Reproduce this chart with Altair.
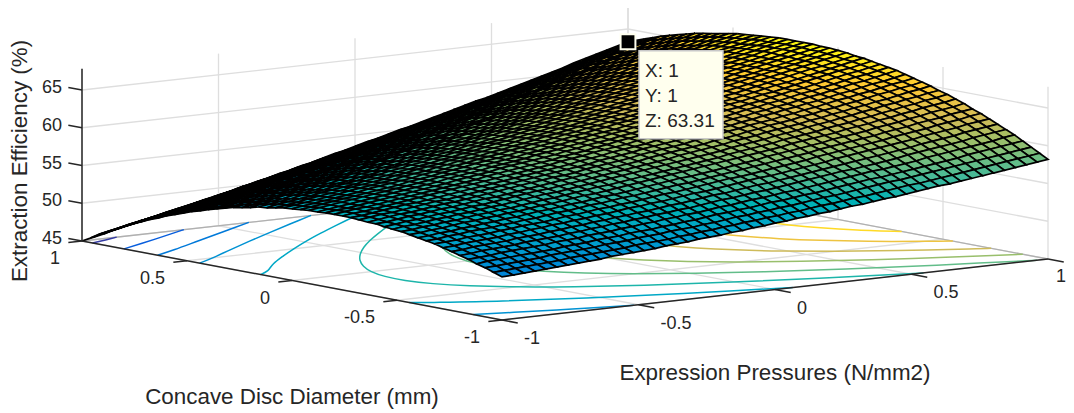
import altair as alt, numpy as np, pandas as pd

# Surface heights in tenths of a percent, one row per mesh line of Concave Disc Diameter (-1..1),
# one column per mesh line of Expression Pressures (-1..1). Surface edges,
# corners and floor contours, with Z = 63.31 at the labelled corner.
Z_TENTHS = [
[507,508,509,510,511,512,513,514,515,516,518,519,520,521,522,524,525,526,528,529,530,532,533,535,536,538,539,541,542,544,545,547,549,550,552,554,555,557,559,561,563,564,566,568,570,572,574,576,578,580,582],
[511,512,513,514,515,516,517,519,520,521,522,523,524,526,527,528,529,531,532,534,535,537,538,540,541,543,544,546,547,549,551,552,554,556,557,559,561,563,565,566,568,570,572,574,576,578,580,582,584,586,588],
[515,516,517,518,519,520,522,523,524,525,526,528,529,530,532,533,534,536,537,538,540,541,543,545,546,548,549,551,552,554,556,558,559,561,563,565,567,569,570,572,574,576,578,580,582,584,586,588,590,592,594],
[518,520,521,522,523,524,525,526,528,529,530,532,533,534,536,537,538,540,541,543,544,546,548,549,551,552,554,556,557,559,561,562,564,566,568,570,572,573,575,577,579,581,583,585,587,590,592,594,596,598,600],
[522,523,524,526,527,528,529,530,532,533,534,536,537,538,540,541,543,544,546,547,549,550,552,554,555,557,559,560,562,564,565,567,569,571,573,575,577,579,580,582,584,586,589,591,593,595,597,599,601,604,606],
[525,526,528,529,530,531,533,534,535,536,538,539,541,542,544,545,547,548,550,551,553,554,556,558,560,561,563,565,566,568,570,572,574,576,578,580,581,583,585,587,589,592,594,596,598,600,602,605,607,609,611],
[528,529,531,532,533,534,536,537,538,540,541,543,544,546,547,549,550,552,553,555,557,558,560,562,564,565,567,569,571,572,574,576,578,580,582,584,586,588,590,592,594,596,598,601,603,605,607,610,612,614,616],
[531,532,534,535,536,537,539,540,542,543,545,546,548,549,551,552,554,556,557,559,560,562,564,566,567,569,571,573,575,577,578,580,582,584,586,588,591,593,595,597,599,601,603,605,608,610,612,614,617,619,621],
[534,535,536,538,539,540,542,543,545,546,547,549,551,552,554,556,557,559,560,562,564,566,567,569,571,573,575,577,578,580,582,584,586,588,590,593,595,597,599,601,603,605,608,610,612,614,617,619,621,624,626],
[536,537,539,540,542,543,544,546,547,549,550,552,554,555,557,559,560,562,564,565,567,569,571,573,574,576,578,580,582,584,586,588,590,592,594,596,599,601,603,605,607,609,612,614,616,619,621,623,626,628,630],
[538,539,541,542,544,545,547,548,550,551,553,555,556,558,560,561,563,565,566,568,570,572,574,576,578,579,581,583,585,587,589,591,594,596,598,600,602,604,607,609,611,613,616,618,620,623,625,628,630,632,635],
[540,541,543,544,546,548,549,551,552,554,555,557,559,560,562,564,566,567,569,571,573,575,577,579,581,583,585,587,589,591,593,595,597,599,601,604,606,608,610,612,615,617,619,622,624,627,629,632,634,636,639],
[542,543,545,546,548,549,551,553,554,556,557,559,561,563,564,566,568,570,572,573,575,577,579,581,583,585,587,589,591,593,596,598,600,602,604,607,609,611,613,616,618,620,623,625,628,630,633,635,638,640,643],
[543,545,546,548,550,551,553,554,556,558,559,561,563,565,567,568,570,572,574,576,578,580,582,584,586,588,590,592,594,596,598,601,603,605,607,610,612,614,617,619,621,624,626,629,631,634,636,639,641,644,646],
[544,546,548,549,551,553,554,556,558,559,561,563,565,567,569,570,572,574,576,578,580,582,584,586,588,590,592,595,597,599,601,603,606,608,610,613,615,617,619,622,624,627,629,632,634,637,639,642,645,647,650],
[546,547,549,551,552,554,556,557,559,561,563,564,566,568,570,572,574,576,578,580,582,584,586,588,590,593,595,597,599,601,603,606,608,610,613,615,618,620,622,625,627,630,632,635,637,640,643,645,648,650,653],
[546,548,550,552,553,555,557,559,560,562,564,566,568,570,572,574,576,578,579,581,584,586,588,590,592,595,597,599,601,603,606,608,610,613,615,618,620,622,625,627,630,632,635,638,640,643,645,648,651,653,656],
[547,549,551,552,554,556,558,560,561,563,565,567,569,571,573,575,577,579,581,583,585,587,590,592,594,596,599,601,603,605,607,610,612,615,617,620,622,625,627,630,632,635,637,640,643,645,648,651,653,656,659],
[548,549,551,553,555,557,558,560,562,564,566,568,570,572,574,576,578,580,582,584,586,589,591,593,596,598,600,602,605,607,609,612,614,617,619,622,624,627,629,632,634,637,640,642,645,648,651,653,656,659,662],
[548,550,551,553,555,557,559,561,563,565,567,569,571,573,575,577,579,581,583,585,588,590,592,595,597,599,601,604,606,608,611,613,616,618,621,623,626,629,631,634,636,639,642,644,647,650,653,656,658,661,664],
[548,550,552,553,555,557,559,561,563,565,567,569,571,573,576,578,580,582,584,586,588,591,593,595,598,600,603,605,607,610,612,615,617,620,622,625,628,630,633,635,638,641,644,646,649,652,655,658,660,663,666],
[548,550,551,553,555,557,559,561,563,565,567,569,572,574,576,578,581,583,585,587,589,591,594,596,599,601,603,606,608,611,613,616,618,621,624,626,629,632,634,637,640,642,645,648,651,654,657,660,662,665,668],
[547,549,551,553,555,557,559,561,563,565,567,569,572,574,576,578,581,583,585,587,590,592,594,597,599,602,604,607,609,612,614,617,619,622,625,627,630,633,635,638,641,644,647,649,652,655,658,661,664,667,670],
[547,549,551,553,555,557,559,561,563,565,567,569,572,574,576,578,581,583,585,587,590,592,595,597,600,602,605,607,609,612,615,617,620,623,626,628,631,634,637,639,642,645,648,651,654,657,660,662,665,668,671],
[546,548,550,552,554,556,558,560,562,564,567,569,571,574,576,578,581,583,585,587,590,592,595,597,600,603,605,608,610,613,615,618,621,623,626,629,632,634,637,640,643,646,649,652,655,658,661,664,667,670,673],
[545,547,549,551,553,555,557,560,562,564,566,568,571,573,575,578,580,583,585,587,590,592,595,597,600,603,605,608,610,613,615,618,621,624,627,629,632,635,638,641,644,647,650,653,656,659,662,665,668,671,674],
[544,546,548,550,552,554,557,559,561,563,565,568,570,572,575,577,580,582,584,587,589,592,594,597,600,602,605,608,610,613,616,618,621,624,627,630,633,635,638,641,644,647,650,653,656,659,662,665,668,672,675],
[542,544,546,549,551,553,555,558,560,562,564,567,569,572,574,576,579,581,584,586,589,591,594,597,599,602,605,607,610,613,615,618,621,624,627,630,633,636,638,641,644,647,651,654,657,660,663,666,669,672,675],
[540,543,545,547,549,552,554,556,558,561,563,565,568,570,573,575,578,580,583,585,588,591,593,596,599,601,604,607,610,612,615,618,621,624,627,630,633,636,638,641,644,647,651,654,657,660,663,666,670,673,676],
[539,541,543,545,548,550,552,555,557,559,562,564,567,569,572,574,577,579,582,584,587,590,592,595,598,601,603,606,609,612,614,617,620,623,626,629,632,635,638,641,644,647,651,654,657,660,663,667,670,673,676],
[536,539,541,543,546,548,550,553,555,557,560,562,565,568,570,573,575,578,580,583,586,588,591,594,597,600,602,605,608,611,614,617,620,623,626,629,632,635,638,641,644,647,650,654,657,660,663,667,670,673,676],
[534,536,539,541,544,546,548,551,553,556,558,561,563,566,568,571,574,576,579,581,584,587,590,593,596,598,601,604,607,610,613,616,619,622,625,628,631,634,637,640,643,647,650,653,656,660,663,666,670,673,676],
[532,534,536,539,541,544,546,549,551,554,556,559,561,564,567,569,572,575,577,580,583,585,588,591,594,597,600,603,606,608,611,615,618,621,624,627,630,633,636,639,642,646,649,652,656,659,662,666,669,672,676],
[529,531,534,536,539,541,544,546,549,551,554,556,559,562,564,567,570,573,575,578,581,584,586,589,592,595,598,601,604,607,610,613,616,619,622,626,629,632,635,638,641,645,648,651,655,658,662,665,668,672,675],
[526,528,531,533,536,539,541,544,546,549,551,554,557,559,562,565,568,570,573,576,579,582,585,588,590,593,596,599,602,605,608,611,615,618,621,624,627,631,634,637,640,644,647,650,654,657,661,664,667,671,674],
[523,525,528,530,533,536,538,541,543,546,548,551,554,557,560,562,565,568,571,574,576,579,582,585,588,591,594,597,600,603,606,610,613,616,619,623,626,629,632,636,639,642,646,649,653,656,660,663,667,670,673],
[519,522,525,527,530,532,535,538,540,543,545,548,551,554,557,560,562,565,568,571,574,577,580,583,586,589,592,595,598,601,604,608,611,614,618,621,624,627,631,634,637,641,644,648,651,655,658,662,665,669,672],
[516,518,521,524,526,529,532,534,537,540,542,545,548,551,554,557,560,562,565,568,571,574,577,580,584,587,590,593,596,599,602,605,609,612,615,619,622,625,629,632,635,639,642,646,650,653,657,660,664,667,671],
[512,515,517,520,523,525,528,531,534,536,539,542,545,548,551,553,556,559,562,565,568,571,574,578,581,584,587,590,593,597,600,603,606,610,613,616,620,623,626,630,633,637,640,644,648,651,655,658,662,666,669],
[508,511,513,516,519,522,524,527,530,533,535,538,541,544,547,550,553,556,559,562,565,568,571,575,578,581,584,587,591,594,597,600,604,607,611,614,617,621,624,628,631,635,638,642,646,649,653,656,660,664,667],
[504,507,509,512,515,518,520,523,526,529,532,535,538,541,544,547,550,553,556,559,562,565,568,571,575,578,581,584,588,591,594,597,601,604,608,611,615,618,622,625,629,632,636,640,643,647,651,654,658,662,665],
[499,502,505,508,511,513,516,519,522,525,528,531,534,537,540,543,546,549,552,555,558,561,565,568,571,574,578,581,584,588,591,594,598,601,605,608,612,615,619,622,626,630,633,637,641,644,648,652,656,659,663],
[495,498,500,503,506,509,512,515,518,521,523,527,530,533,536,539,542,545,548,551,554,558,561,564,568,571,574,577,581,584,588,591,595,598,602,605,609,612,616,619,623,627,630,634,638,642,645,649,653,657,661],
[490,493,496,499,502,504,507,510,513,516,519,522,525,528,532,535,538,541,544,547,550,554,557,560,564,567,571,574,577,581,584,588,591,595,598,602,605,609,613,616,620,624,627,631,635,639,643,646,650,654,658],
[485,488,491,494,497,500,503,506,508,511,514,518,521,524,527,530,534,537,540,543,546,550,553,556,560,563,567,570,573,577,580,584,587,591,595,598,602,606,609,613,617,620,624,628,632,636,640,643,647,651,655],
[480,483,486,489,491,494,497,500,503,506,510,513,516,519,522,526,529,532,535,539,542,545,549,552,556,559,562,566,569,573,576,580,584,587,591,595,598,602,606,609,613,617,621,625,628,632,636,640,644,648,652],
[474,477,480,483,486,489,492,495,498,501,505,508,511,514,518,521,524,527,531,534,537,541,544,548,551,555,558,561,565,568,572,576,579,583,587,591,594,598,602,605,609,613,617,621,625,629,633,637,641,645,649],
[468,471,475,478,481,484,487,490,493,496,499,503,506,509,512,516,519,522,526,529,532,536,539,543,546,550,553,557,561,564,568,571,575,579,583,586,590,594,598,601,605,609,613,617,621,625,629,633,637,641,645],
[463,466,469,472,475,478,481,484,487,491,494,497,500,504,507,511,514,517,521,524,527,531,534,538,542,545,549,552,556,559,563,567,571,574,578,582,586,590,593,597,601,605,609,613,617,621,625,629,633,637,641],
[456,460,463,466,469,472,475,479,482,485,488,491,495,498,502,505,508,512,515,519,522,526,529,533,536,540,544,547,551,555,558,562,566,570,574,577,581,585,589,593,597,601,605,609,613,617,621,625,629,633,637],
[450,453,456,460,463,466,469,473,476,479,482,486,489,492,496,499,503,506,510,513,517,520,524,528,531,535,539,542,546,550,553,557,561,565,569,573,577,580,584,588,592,596,600,604,608,613,617,621,625,629,633],
]
# Floor contours: (level, [(pressure, diameter), ...]).
C46 = [(-1, .95), (-.933, .975), (-.873, 1)]
C48 = [(-1, .80), (-.809, .9), (-.627, 1)]
C50 = [(-1, .64), (-.891, .7), (-.724, .8), (-.557, .9), (-.389, 1)]
C52A = [(-1, .44), (-.906, .5), (-.763, .6), (-.617, .7), (-.467, .8), (-.315, .9), (-.161, 1)]
C52B = [(-1, -.863), (-.879, -.9), (-.704, -.95), (-.517, -1)]
C54A = [(-1, .15), (-.935, .2), (-.837, .3), (-.726, .4), (-.609, .5), (-.486, .6), (-.356, .7), (-.221, .8), (-.083, .9), (.059, 1)]
C54B = [(-1, -.558), (-.941, -.6), (-.766, -.7), (-.537, -.8), (-.259, -.9), (.065, -1)]
C56 = [(.272, 1), (.141, .9), (.015, .8), (-.107, .7), (-.221, .6), (-.329, .5), (-.429, .4), (-.519, .3), (-.597, .2), (-.661, .1), (-.709, 0),
       (-.736, -.1), (-.739, -.2), (-.714, -.3), (-.656, -.4), (-.561, -.5), (-.425, -.6), (-.247, -.7), (-.025, -.8), (.239, -.9), (.544, -1)]
C58 = [(.479, 1), (.357, .9), (.242, .8), (.133, .7), (.030, .6), (-.064, .5), (-.149, .4), (-.223, .3), (-.284, .2), (-.330, .1), (-.359, 0),
       (-.367, -.1), (-.351, -.2), (-.308, -.3), (-.235, -.4), (-.129, -.5), (.015, -.6), (.194, -.7), (.413, -.8), (.669, -.9), (.96, -1)]
C60 = [(.679, 1), (.569, .9), (.462, .8), (.363, .7), (.271, .6), (.189, .5), (.117, .4), (.056, .3), (.010, .2), (-.021, .1), (-.035, 0),
       (-.029, -.1), (.002, -.2), (.058, -.3), (.141, -.4), (.256, -.5), (.405, -.6), (.586, -.7), (.803, -.8), (1, -.88)]
C62 = [(.875, 1), (.771, .9), (.674, .8), (.585, .7), (.504, .6), (.432, .5), (.371, .4), (.322, .3), (.288, .2), (.269, .1), (.267, 0),
       (.286, -.1), (.327, -.2), (.393, -.3), (.486, -.4), (.607, -.5), (.759, -.6), (.941, -.7), (1, -.729)]
C64 = [(1, .933), (.970, .9), (.881, .8), (.800, .7), (.727, .6), (.666, .5), (.614, .4), (.576, .3), (.551, .2), (.543, .1), (.552, 0),
       (.580, -.1), (.631, -.2), (.705, -.3), (.804, -.4), (.931, -.5), (1, -.547)]
C66 = [(1, .688), (.944, .6), (.891, .5), (.848, .4), (.818, .3), (.804, .2), (.803, .1), (.821, 0), (.859, -.1), (.917, -.2), (1, -.303)]
CONTOURS = [(46, C46), (48, C48), (50, C50), (52, C52A), (52, C52B), (54, C54A), (54, C54B), (56, C56), (58, C58), (60, C60), (62, C62), (64, C64), (66, C66)]
X_TICKS = [-1, -.5, 0, .5, 1]
Y_TICKS = [-1, -.5, 0, .5, 1]
Z_TICKS = [45, 50, 55, 60, 65]
ZMIN, ZTOP = 45, 67.8
TIP_VALUES = ['X: 1', 'Y: 1', 'Z: 63.31']
PARULA = ['#352a87', '#0f5cdd', '#1481d6', '#06a4ca', '#2eb7a4', '#87bf77', '#d1bb59', '#fec832', '#f9fb0e']

Z = np.array(Z_TENTHS) / 10
N = Z.shape[0]
xs = [-1 + 2 * i / (N - 1) for i in range(N)]
ys = xs

def P(x, y, z=45):
    return 565 + 273 * x - 210 * y, 250 - 30.5 * x - 39.5 * y - 7.55 * (z - 45)

DOM = [ZMIN + (ZTOP - ZMIN) * i / 8 for i in range(9)]
COL = alt.Scale(domain=DOM, range=PARULA)
X = alt.X('x:Q', scale=alt.Scale(domain=[8, 1066], nice=False, zero=False), axis=None)
Y = alt.Y('y:Q', scale=alt.Scale(domain=[413, 8], nice=False, zero=False), axis=None)

def lines(segs, color, width):
    rows = []
    for k, (a, b) in enumerate(segs):
        for j, p in enumerate((a, b)):
            px, py = P(*p)
            rows.append(dict(x=px, y=py, k=k, j=j))
    return alt.Chart(pd.DataFrame(rows)).mark_line(color=color, strokeWidth=width).encode(X, Y, detail='k:N', order='j:Q')

g = []
for z in Z_TICKS[1:]:
    g += [((-1, 1, z), (1, 1, z)), ((1, 1, z), (1, -1, z))]
for t in X_TICKS:
    g += [((t, 1, 45), (t, 1, ZTOP)), ((1, t, 45), (1, t, ZTOP)), ((t, -1, 45), (t, 1, 45)), ((-1, t, 45), (1, t, 45))]
grid = lines(g, '#dedede', 1.3)
edge = lines([((-1, 1, 45), (1, 1, 45)), ((1, 1, 45), (1, -1, 45))], '#b0b0b0', 1.3)

rows = []
for k, (L, pts) in enumerate(CONTOURS):
    for n, p in enumerate(pts):
        px, py = P(p[0], p[1])
        rows.append(dict(x=px, y=py, k=k, j=n, z=L))
cont = alt.Chart(pd.DataFrame(rows)).mark_line(strokeWidth=1.5, interpolate='cardinal').encode(
    X, Y, detail='k:N', order='j:Q', stroke=alt.Stroke('z:Q', scale=COL, legend=None))

# mesh cells, far corner first
rows = []
q = 0
for j in range(N - 1, 0, -1):
    for i in range(N - 1, 0, -1):
        cc = [(i, j), (i - 1, j), (i - 1, j - 1), (i, j - 1), (i, j)]
        zm = float(np.mean([Z[b, a] for a, b in cc[:4]]))
        for n, (a, b) in enumerate(cc):
            px, py = P(xs[a], ys[b], Z[b, a])
            rows.append(dict(x=round(px, 2), y=round(py, 2), q=q, n=n, c=round(zm, 2)))
        q += 1
surf = alt.Chart(alt.Data(values=rows)).mark_line(stroke='#000000', strokeWidth=1.7).encode(
    X, Y, detail='q:N', order='n:Q', fill=alt.Fill('c:Q', scale=COL, legend=None))

ax = [((-1, 1, 45), (-1, 1, ZTOP)), ((-1, 1, 45), (-1, -1, 45)), ((-1, -1, 45), (1, -1, 45))]
for t in X_TICKS:
    ax += [((t, -1, 45), (t, -1.075, 45)), ((-1, t, 45), (-1.05, t, 45))]
for z in Z_TICKS:
    ax += [((-1, 1, z), (-1, 1.065, z))]
axes = lines(ax, '#262626', 1.5)

FONT = 'Liberation Sans'
def text(df, align, dx, dy, size=18, **kw):
    return alt.Chart(pd.DataFrame(df)).mark_text(font=FONT, fontSize=size, color='#262626', align=align, dx=dx, dy=dy,
                                                 baseline='middle', **kw).encode(X, Y, text='t:N')
def lab(fn, vals):
    return [dict(zip(('x', 'y', 't'), (*fn(v), '%g' % v))) for v in vals]

tx = text(lab(lambda v: P(v, -1), X_TICKS[:-1]), 'left', 22, 19)
tx1 = text([dict(x=1061, y=277, t='1')], 'center', 0, 0)
ty = text(lab(lambda v: P(-1, v), Y_TICKS), 'right', -22, 18)
tz = text(lab(lambda v: P(-1, 1, v), Z_TICKS), 'right', -20, -2)
tit1 = text([dict(x=775, y=373, t='Expression Pressures (N/mm2)')], 'center', 0, 0, size=22.4)
tit2 = text([dict(x=292, y=397, t='Concave Disc Diameter (mm)')], 'center', 0, 0, size=22.4)
tit3 = text([dict(x=20, y=161, t='Extraction Efficiency (%)')], 'center', 0, 0, size=22.4, angle=270)

bx, by = P(1, 1, 63.31)
box = alt.Chart(pd.DataFrame([dict(x=bx + 11, x2=bx + 95, y=by + 9, y2=by + 97)])).mark_rect(
    fill='#ffffee', stroke='#c8c8c8', strokeWidth=1.5).encode(X, Y, x2='x2:Q', y2='y2:Q')
mk = alt.Chart(pd.DataFrame([dict(x=bx, y=by)])).mark_point(
    shape='square', filled=True, fill='#000000', stroke='#ffffee', strokeWidth=2, size=220, opacity=1).encode(X, Y)
tip = text([dict(x=bx + 17, y=by + 29 + 25 * i, t=s) for i, s in enumerate(TIP_VALUES)], 'left', 0, 0, size=19)

chart = alt.layer(grid, edge, cont, surf, axes, tx, tx1, ty, tz, tit1, tit2, tit3, box, mk, tip).properties(
    width=1058, height=405, padding=0, autosize=alt.AutoSizeParams(type='none')).configure_view(stroke=None)
chart.save("out.html", embed_options={"renderer": "svg", "actions": False})
